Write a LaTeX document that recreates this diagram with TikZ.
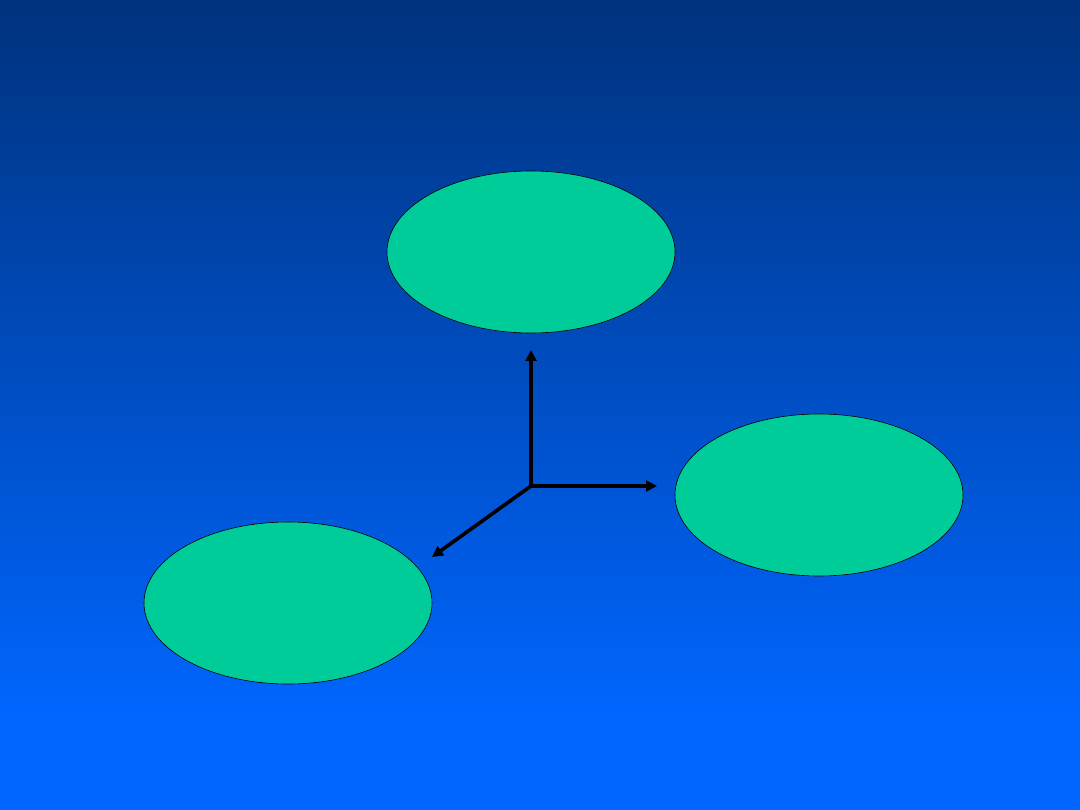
\documentclass[tikz,border=0pt]{standalone}
\usetikzlibrary{arrows.meta,shapes.geometric}
\definecolor{bgtop}{RGB}{0,50,125}
\definecolor{bgbot}{RGB}{0,102,255}
\definecolor{oval}{RGB}{0,204,153}
\tikzset{
  blob/.style={ellipse, draw=black, line width=0.6pt, fill=oval, minimum width=288pt, minimum height=162pt, inner sep=0pt},
  axis/.style={line width=3.6pt, -{Triangle[length=11pt,width=11pt]}}
}
\begin{document}
\begin{tikzpicture}[x=1pt,y=-1pt]
\useasboundingbox (0,0) rectangle (1080,810);
\shade[top color=bgtop, bottom color=bgbot] (0,0) rectangle (1080,720);
\fill[bgbot] (0,719.5) rectangle (1080,810);
\node[blob] (top) at (531,252) {};
\node[blob] (right) at (819,495) {};
\node[blob] (left) at (288,603) {};
\coordinate (o) at (531,486);
\coordinate (up) at (531,350);
\coordinate (rt) at (657,486);
\coordinate (dl) at (432,557);
\draw[axis] (o) -- (up);
\draw[axis] (o) -- (rt);
\draw[axis] (o) -- (dl);
\end{tikzpicture}
\end{document}
